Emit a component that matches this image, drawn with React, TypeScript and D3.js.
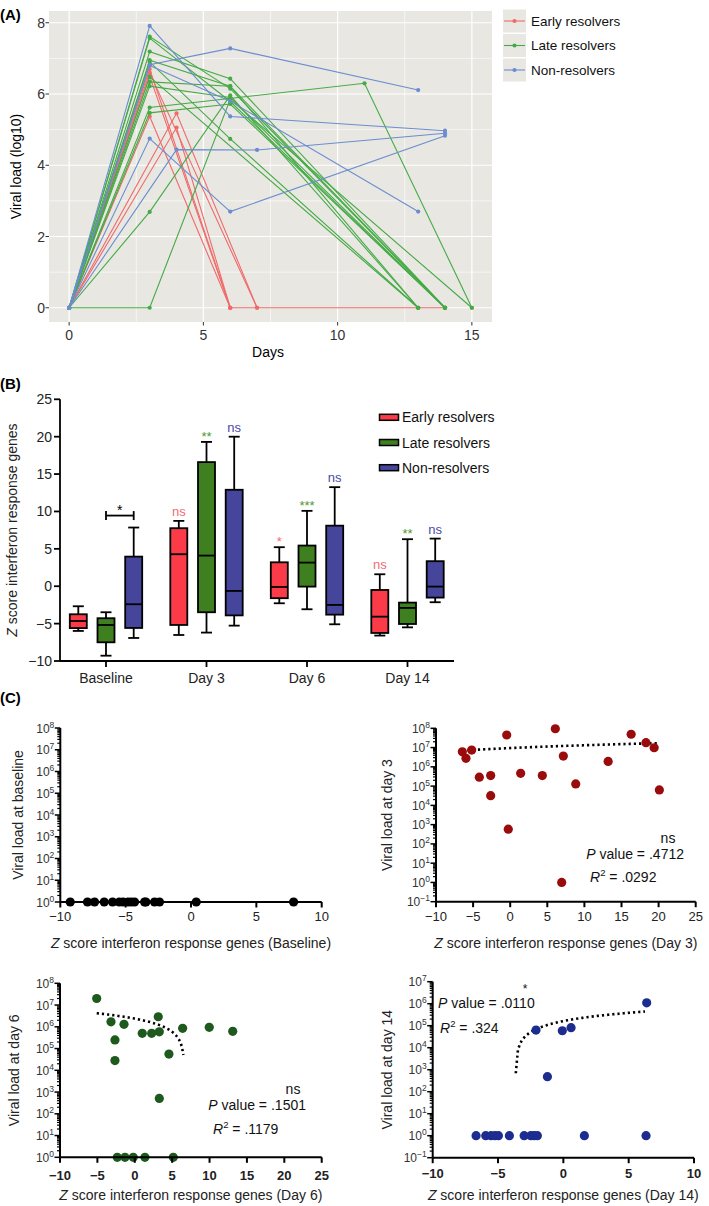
import React from "react";
import * as d3 from "d3";

const FONT = "'Liberation Sans', Arial, Helvetica, sans-serif";

// ---------- Panel A data: viral load (log10) per subject, [day, value] ----------
const groupNames = ["Early resolvers", "Late resolvers", "Non-resolvers"];
const aEarly = [
  [[0, 0], [3, 6.7], [6, 0], [14, 0]],
  [[0, 0], [3, 6.6], [7, 0]],
  [[0, 0], [3, 6.5], [6, 0]],
  [[0, 0], [3, 5.37], [6, 0]],
  [[0, 0], [4, 5.46], [7, 0]],
  [[0, 0], [4, 5.06], [6, 0]],
];
const aLate = [
  [[0, 0], [3, 7.61], [6, 6.15], [14, 0]],
  [[0, 0], [3, 7.57], [6, 5.79], [14, 0]],
  [[0, 0], [3, 7.19], [6, 6.43], [14, 0]],
  [[0, 0], [3, 6.95], [6, 6.22], [13, 0]],
  [[0, 0], [3, 6.9], [6, 4.74], [13, 0]],
  [[0, 0], [3, 6.48], [13, 0]],
  [[0, 0], [3, 6.34], [6, 6.22], [14, 0]],
  [[0, 0], [3, 6.22], [6, 5.9], [14, 0]],
  [[0, 0], [3, 5.62], [11, 6.3], [15, 0]],
  [[0, 0], [3, 5.47], [6, 5.72], [14, 0]],
  [[0, 0], [3, 2.69], [6, 5.96], [13, 0]],
  [[0, 0], [3, 0], [6, 5.85], [15, 0]],
];
const aNon = [
  [[0, 0], [3, 6.82], [6, 7.28], [13, 6.11]],
  [[0, 0], [3, 7.91], [6, 5.37], [14, 4.97]],
  [[0, 0], [3, 6.8], [6, 5.8], [13, 2.7]],
  [[0, 0], [3, 4.75], [6, 2.7], [14, 4.83]],
  [[0, 0], [4, 4.44], [7, 4.43], [14, 4.9]],
];
const aColors = ["#F06A6A", "#45AA45", "#6B8DCF"];
const aXTicks = [0, 5, 10, 15];
const aXMinor = [2.5, 7.5, 12.5];
const aYTicks = [0, 2, 4, 6, 8];
const aYMinor = [1, 3, 5, 7];

// ---------- Panel B data: [whiskerLow, q1, median, q3, whiskerHigh] ----------
const timepoints = ["Baseline", "Day 3", "Day 6", "Day 14"];
const earlyStats = [
  [-5.98, -5.6, -4.65, -3.75, -2.68],
  [-6.52, -5.18, 4.28, 7.76, 8.74],
  [-2.28, -1.6, -0.1, 3.2, 5.22],
  [-6.6, -6.25, -4.07, -0.5, 1.6],
];
const lateStats = [
  [-9.29, -7.5, -5.18, -4.28, -3.48],
  [-6.2, -3.48, 4.1, 16.6, 19.3],
  [-3.08, -0.05, 3.16, 5.44, 10.08],
  [-5.5, -5.05, -2.9, -2.19, 6.29],
];
const nonStats = [
  [-6.92, -5.58, -2.41, 3.96, 7.85],
  [-5.27, -3.9, -0.63, 12.9, 20.0],
  [-5.09, -3.8, -2.5, 8.1, 13.25],
  [-2.14, -1.52, -0.05, 3.35, 6.37],
];
const earlySig = ["", "ns", "*", "ns"];
const lateSig = ["", "**", "***", "**"];
const nonSig = ["", "ns", "ns", "ns"];
const bYTicks = [-10, -5, 0, 5, 10, 15, 20, 25];
const bFill = ["#FB3B47", "#3E8020", "#45459C"];
const bSigColor = ["#F26B75", "#4F9A30", "#4A4AA8"];

// ---------- Panel C data ----------
const baselineZ = [-9.24, -7.92, -7.38, -6.64, -6.0, -5.49, -5.2, -4.82, -4.57, -4.32, -3.55, -3.45, -2.79, -2.41, 0.4, 7.85];
const baselineLoad = [1, 1, 1, 1, 1, 1, 1, 1, 1, 1, 1, 1, 1, 1, 1, 1];
const day3Z = [-6.45, -5.96, -5.19, -4.16, -2.63, -2.63, -0.47, -0.26, 1.41, 4.33, 6.08, 7.16, 6.94, 8.83, 13.2, 16.3, 18.3, 19.4, 20.1];
const day3Load = [6.0e6, 2.75e6, 7.4e6, 2.9e5, 3.5e5, 3.2e4, 4.5e7, 5.8e2, 4.6e5, 3.5e5, 9.5e7, 3.6e6, 1, 1.3e5, 1.9e6, 4.9e7, 1.8e7, 9.8e6, 6.3e4];
const day6Z = [-5.09, -3.18, -2.65, -2.65, -1.44, 1.0, 2.26, 3.14, 3.28, 4.57, 6.4, 9.96, 13.1, 3.28, -2.34, -1.31, -0.2, 1.36, 5.15];
const day6Load = [2.0e7, 1.7e6, 2.5e5, 2.8e4, 1.3e6, 5e5, 5e5, 2.9e6, 5.9e5, 5.6e4, 8.5e5, 9.5e5, 6.2e5, 510, 1, 1, 1, 1, 1];
const day14Z = [6.38, -2.09, -0.08, 0.59, -1.22, -6.68, -5.94, -5.53, -5.23, -4.97, -4.13, -3.0, -2.49, -2.24, -1.99, 1.61, 6.33];
const day14Load = [1.1e6, 6.3e4, 5.9e4, 8.1e4, 480, 1, 1, 1, 1, 1, 1, 1, 1, 1, 1, 1, 1];
// regression line endpoints [x0, y0, x1, y1]
const trend3 = [-6.45, 7.0e6, 20.1, 1.7e7];
const trend6 = [-5.09, 4.2e6, 6.5, 5e4];
const trend14 = [-3.64, 690, 6.25, 4.4e5];

function PanelA() {
  const x = d3.scaleLinear().domain([-0.75, 15.75]).range([49, 492]);
  const y = d3.scaleLinear().domain([-0.4, 8.33]).range([322, 11]);
  const line = d3.line<number[]>().x((d) => x(d[0])).y((d) => y(d[1]));
  const groups = [aEarly, aLate, aNon];
  const [x0, x1] = x.range();
  const [y0, y1] = y.range();
  return (
    <g>
      <text x={0} y={20} fontSize={15} fontWeight="bold">(A)</text>
      <rect x={x0} y={y1} width={x1 - x0} height={y0 - y1} fill="#E8E7E2" />
      {aXMinor.map((t) => (
        <line key={"xm" + t} x1={x(t)} x2={x(t)} y1={y1} y2={y0} stroke="#fff" strokeWidth={0.6} />
      ))}
      {aYMinor.map((t) => (
        <line key={"ym" + t} x1={x0} x2={x1} y1={y(t)} y2={y(t)} stroke="#fff" strokeWidth={0.6} />
      ))}
      {aXTicks.map((t) => (
        <line key={"xM" + t} x1={x(t)} x2={x(t)} y1={y1} y2={y0} stroke="#fff" strokeWidth={1.2} />
      ))}
      {aYTicks.map((t) => (
        <line key={"yM" + t} x1={x0} x2={x1} y1={y(t)} y2={y(t)} stroke="#fff" strokeWidth={1.2} />
      ))}
      {groups.map((g, gi) =>
        g.map((s, si) => (
          <g key={gi + "-" + si}>
            <path d={line(s) || ""} fill="none" stroke={aColors[gi]} strokeWidth={1.1} />
            {s.map((p, pi) => (
              <circle key={pi} cx={x(p[0])} cy={y(p[1])} r={2.1} fill={aColors[gi]} />
            ))}
          </g>
        ))
      )}
      {aXTicks.map((t) => (
        <g key={"xt" + t}>
          <line x1={x(t)} x2={x(t)} y1={y0} y2={y0 + 3.5} stroke="#333" />
          <text x={x(t)} y={340} fontSize={14} textAnchor="middle" fill="#333">{t}</text>
        </g>
      ))}
      {aYTicks.map((t) => (
        <g key={"yt" + t}>
          <line x1={x0 - 3.5} x2={x0} y1={y(t)} y2={y(t)} stroke="#333" />
          <text x={45} y={y(t)} dy="0.36em" fontSize={14} textAnchor="end" fill="#333">{t}</text>
        </g>
      ))}
      <text x={268} y={357} fontSize={14} textAnchor="middle">Days</text>
      <text transform={`translate(21,${(y0 + y1) / 2}) rotate(-90)`} fontSize={14} textAnchor="middle">
        Viral load (log10)
      </text>
      {groupNames.map((n, i) => {
        const cy = 21 + i * 24.5;
        return (
          <g key={n}>
            <rect x={503} y={cy - 11.5} width={23} height={23} fill="#E8E7E2" />
            <line x1={504} x2={525} y1={cy} y2={cy} stroke={aColors[i]} strokeWidth={1.1} />
            <circle cx={514.5} cy={cy} r={2.1} fill={aColors[i]} />
            <text x={531} y={cy} dy="0.35em" fontSize={13.5} fill="#111">{n}</text>
          </g>
        );
      })}
    </g>
  );
}

function PanelB() {
  const y = d3.scaleLinear().domain([-10, 25]).range([661, 399.3]);
  const xc = d3.scalePoint<string>().domain(timepoints).range([106, 407.5]);
  const off = d3.scalePoint<string>().domain(groupNames).range([-27.7, 27.7]);
  const stats = [earlyStats, lateStats, nonStats];
  const sigs = [earlySig, lateSig, nonSig];
  const bw = 17;
  const cap = 5.5;
  const xa = (xc("Baseline") as number) + (off(groupNames[1]) as number);
  const xb = (xc("Baseline") as number) + (off(groupNames[2]) as number);
  const yb = y(9.45);
  return (
    <g>
      <text x={0} y={389} fontSize={15} fontWeight="bold">(B)</text>
      {stats.map((st, gi) =>
        st.map((s, ti) => {
          const cx = (xc(timepoints[ti]) as number) + (off(groupNames[gi]) as number);
          const [wl, q1, md, q3, wh] = s;
          const sg = sigs[gi][ti];
          return (
            <g key={gi + "-" + ti}>
              <line x1={cx} x2={cx} y1={y(wh)} y2={y(q3)} stroke="#000" strokeWidth={1.8} />
              <line x1={cx} x2={cx} y1={y(q1)} y2={y(wl)} stroke="#000" strokeWidth={1.8} />
              <line x1={cx - cap} x2={cx + cap} y1={y(wh)} y2={y(wh)} stroke="#000" strokeWidth={1.8} />
              <line x1={cx - cap} x2={cx + cap} y1={y(wl)} y2={y(wl)} stroke="#000" strokeWidth={1.8} />
              <rect x={cx - bw / 2} y={y(q3)} width={bw} height={y(q1) - y(q3)} fill={bFill[gi]} stroke="#000" strokeWidth={1.8} />
              <line x1={cx - bw / 2} x2={cx + bw / 2} y1={y(md)} y2={y(md)} stroke="#000" strokeWidth={1.8} />
              {sg && (
                <text x={cx} y={y(wh) - (sg === "ns" ? 5 : 1)} fontSize={13} textAnchor="middle" fill={bSigColor[gi]}>
                  {sg}
                </text>
              )}
            </g>
          );
        })
      )}
      <line x1={xa} x2={xb} y1={yb} y2={yb} stroke="#000" strokeWidth={1.8} />
      <line x1={xa} x2={xa} y1={yb - 4.5} y2={yb + 4.5} stroke="#000" strokeWidth={1.8} />
      <line x1={xb} x2={xb} y1={yb - 4.5} y2={yb + 4.5} stroke="#000" strokeWidth={1.8} />
      <text x={(xa + xb) / 2} y={yb - 0.5} fontSize={14} textAnchor="middle">*</text>
      <line x1={60} x2={60} y1={399.3} y2={661} stroke="#000" strokeWidth={1.8} />
      <line x1={60} x2={454} y1={661} y2={661} stroke="#000" strokeWidth={1.8} />
      {bYTicks.map((t) => (
        <g key={t}>
          <line x1={54} x2={60} y1={y(t)} y2={y(t)} stroke="#000" strokeWidth={1.8} />
          <text x={52} y={y(t)} dy="0.36em" fontSize={14} textAnchor="end" fill="#222">
            {t < 0 ? "\u2212" + Math.abs(t) : t}
          </text>
        </g>
      ))}
      {timepoints.map((t) => (
        <g key={t}>
          <line x1={xc(t)} x2={xc(t)} y1={661} y2={667} stroke="#000" strokeWidth={1.8} />
          <text x={xc(t)} y={683} fontSize={14} textAnchor="middle" fill="#222">{t}</text>
        </g>
      ))}
      <text transform={`translate(17,530) rotate(-90)`} fontSize={14} textAnchor="middle" fill="#222">
        <tspan fontStyle="italic">Z</tspan> score interferon response genes
      </text>
      {groupNames.map((n, i) => {
        const cy = 417.3 + i * 25.2;
        return (
          <g key={n}>
            <rect x={379.5} y={cy - 3} width={19} height={6} fill={bFill[i]} stroke="#000" strokeWidth={1.5} />
            <text x={402} y={cy} dy="0.36em" fontSize={14} fill="#111">{n}</text>
          </g>
        );
      })}
    </g>
  );
}

type Annot = {
  sig: string; sigX: number; sigY: number; sigSize: number;
  pX: number; pY: number; pText: string; pAnchor: string;
  rX: number; rY: number; rText: string;
};

type ScatterProps = {
  xs: number[];
  ys: number[];
  xDomain: number[];
  xRange: number[];
  yDomain: number[];
  yRange: number[];
  xTicks: number[];
  color: string;
  yTitle: string;
  yTitleX: number;
  xTitle: string;
  tickBold: boolean;
  tickLabelY: number;
  titleY: number;
  trend?: number[];
  annot?: Annot;
};

function fmtNum(t: number) {
  return t < 0 ? "\u2212" + Math.abs(t) : String(t);
}

function Scatter(p: ScatterProps) {
  const x = d3.scaleLinear().domain(p.xDomain).range(p.xRange);
  const y = d3.scaleLog().domain(p.yDomain).range(p.yRange);
  const ey0 = Math.round(Math.log10(p.yDomain[0]));
  const ey1 = Math.round(Math.log10(p.yDomain[1]));
  const majors = d3.range(ey0, ey1 + 1);
  const minors: number[] = [];
  for (let e = ey0; e < ey1; e++) for (let m = 2; m <= 9; m++) minors.push(m * Math.pow(10, e));
  const ax = p.xRange[0];
  const by = p.yRange[0];
  let trendPath = "";
  if (p.trend) {
    const [tx0, ty0, tx1, ty1] = p.trend;
    const lin = d3.scaleLinear().domain([tx0, tx1]).range([ty0, ty1]);
    const pts = d3.range(0, 61).map((i) => {
      const xv = tx0 + ((tx1 - tx0) * i) / 60;
      return [x(xv), y(lin(xv))];
    });
    trendPath = d3.line()(pts as [number, number][]) || "";
  }
  const midY = (p.yRange[0] + p.yRange[1]) / 2;
  const midX = (p.xRange[0] + p.xRange[1]) / 2;
  const a = p.annot;
  return (
    <g>
      {trendPath && (
        <path d={trendPath} fill="none" stroke="#000" strokeWidth={2.6} strokeDasharray="2.2,3" />
      )}
      {p.xs.map((xv, i) => (
        <circle key={i} cx={x(xv)} cy={y(p.ys[i])} r={4.6} fill={p.color} />
      ))}
      <line x1={ax} x2={ax} y1={p.yRange[1]} y2={by} stroke="#000" strokeWidth={2} />
      <line x1={ax} x2={p.xRange[1]} y1={by} y2={by} stroke="#000" strokeWidth={2} />
      {minors.map((m, i) => (
        <line key={"mn" + i} x1={ax - 3} x2={ax} y1={y(m)} y2={y(m)} stroke="#000" strokeWidth={1.2} />
      ))}
      {majors.map((e) => (
        <g key={"mj" + e}>
          <line x1={ax - 5.5} x2={ax} y1={y(Math.pow(10, e))} y2={y(Math.pow(10, e))} stroke="#000" strokeWidth={1.5} />
          <text x={ax - 6} y={y(Math.pow(10, e)) + 4.5} fontSize={12} textAnchor="end" fill="#333">
            10<tspan dy={-5} fontSize={8.5}>{e < 0 ? "\u2212" + Math.abs(e) : e}</tspan>
          </text>
        </g>
      ))}
      {p.xTicks.map((t) => (
        <g key={"xt" + t}>
          <line x1={x(t)} x2={x(t)} y1={by} y2={by + 5.5} stroke="#000" strokeWidth={2} />
          <text x={x(t)} y={p.tickLabelY} fontSize={13} textAnchor="middle" fill="#222" fontWeight={p.tickBold ? "bold" : "normal"}>
            {fmtNum(t)}
          </text>
        </g>
      ))}
      <text x={midX} y={p.titleY} fontSize={14} textAnchor="middle" fill="#222">
        <tspan fontStyle="italic">Z</tspan> score interferon response genes ({p.xTitle})
      </text>
      <text transform={`translate(${p.yTitleX},${midY}) rotate(-90)`} fontSize={14} textAnchor="middle" fill="#222">
        {p.yTitle}
      </text>
      {a && (
        <g fontSize={14} fill="#111">
          <text x={a.sigX} y={a.sigY} textAnchor="middle" fontSize={a.sigSize}>{a.sig}</text>
          <text x={a.pX} y={a.pY} textAnchor={a.pAnchor as any}>
            <tspan fontStyle="italic">P</tspan> value = {a.pText}
          </text>
          <text x={a.rX} y={a.rY} textAnchor="start">
            <tspan fontStyle="italic">R</tspan>
            <tspan dy={-6} fontSize={9.5}>2</tspan>
            <tspan dy={6}> = {a.rText}</tspan>
          </text>
        </g>
      )}
    </g>
  );
}

function PanelC() {
  return (
    <g>
      <text x={0} y={703} fontSize={15} fontWeight="bold">(C)</text>
      <Scatter
        xs={baselineZ} ys={baselineLoad}
        xDomain={[-10, 10]} xRange={[60.3, 321.7]}
        yDomain={[1, 1e8]} yRange={[902, 728]}
        xTicks={[-10, -5, 0, 5, 10]} color="#000"
        yTitle="Viral load at baseline" yTitleX={23}
        xTitle="Baseline" tickBold={false} tickLabelY={921} titleY={948}
      />
      <Scatter
        xs={day3Z} ys={day3Load}
        xDomain={[-10, 25]} xRange={[436, 695.7]}
        yDomain={[0.1, 1e8]} yRange={[901.7, 728.3]}
        xTicks={[-10, -5, 0, 5, 10, 15, 20, 25]} color="#9A0B0B"
        yTitle="Viral load at day 3" yTitleX={392}
        xTitle="Day 3" tickBold={false} tickLabelY={921} titleY={948}
        trend={trend3}
        annot={{ sig: "ns", sigX: 668, sigY: 843, sigSize: 14, pX: 684, pY: 859, pText: ".4712", pAnchor: "end", rX: 590, rY: 882, rText: ".0292" }}
      />
      <Scatter
        xs={day6Z} ys={day6Load}
        xDomain={[-10, 25]} xRange={[60, 321.7]}
        yDomain={[1, 1e8]} yRange={[1157.3, 983.3]}
        xTicks={[-10, -5, 0, 5, 10, 15, 20, 25]} color="#1E5A1E"
        yTitle="Viral load at day 6" yTitleX={19}
        xTitle="Day 6" tickBold={true} tickLabelY={1180} titleY={1200}
        trend={trend6}
        annot={{ sig: "ns", sigX: 293, sigY: 1094, sigSize: 14, pX: 306, pY: 1110, pText: ".1501", pAnchor: "end", rX: 213, rY: 1134, rText: ".1179" }}
      />
      <Scatter
        xs={day14Z} ys={day14Load}
        xDomain={[-10, 10]} xRange={[432.7, 694]}
        yDomain={[0.1, 1e7]} yRange={[1157.7, 981.7]}
        xTicks={[-10, -5, 0, 5, 10]} color="#1C2D8F"
        yTitle="Viral load at day 14" yTitleX={392}
        xTitle="Day 14" tickBold={true} tickLabelY={1178} titleY={1200}
        trend={trend14}
        annot={{ sig: "*", sigX: 525, sigY: 993, sigSize: 12, pX: 438, pY: 1008, pText: ".0110", pAnchor: "start", rX: 440, rY: 1033, rText: ".324" }}
      />
    </g>
  );
}

export default function App() {
  return (
    <svg
      width={709}
      height={1206}
      style={{ position: "absolute", left: 0, top: 0, background: "#fff" }}
      fontFamily={FONT}
    >
      <rect x={0} y={0} width={709} height={1206} fill="#fff" />
      <PanelA />
      <PanelB />
      <PanelC />
    </svg>
  );
}
